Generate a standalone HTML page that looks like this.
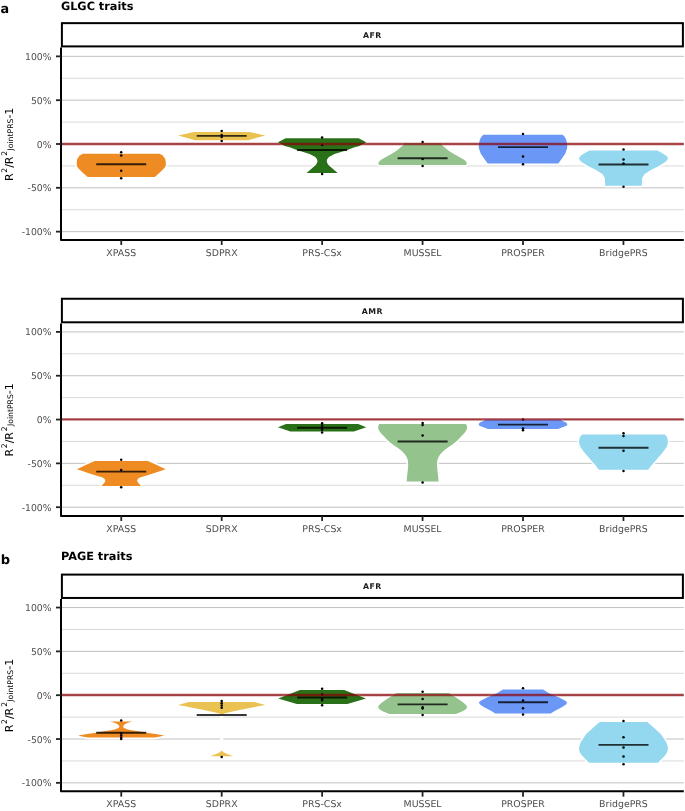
<!DOCTYPE html><html lang="en"><head><meta charset="utf-8"><title>PRS comparison</title>
<style>html,body{margin:0;padding:0;background:#fff}svg{display:block;will-change:transform}text{font-family:"DejaVu Sans","Liberation Sans",sans-serif;text-rendering:geometricPrecision}.tk{font-size:9.4px;fill:#4d4d4d}.st{font-size:7.8px;font-weight:bold;fill:#1a1a1a;letter-spacing:0.5px}.ti{font-size:11.3px;font-weight:bold;fill:#000}.tg{font-size:12.8px;font-weight:bold;fill:#000}.yl{font-size:11px;fill:#000}.ys{font-size:7.7px;fill:#000}</style></head><body>
<svg width="685" height="811" viewBox="0 0 685 811">
<rect width="685" height="811" fill="#fff"/>
<text class="tg" x="0.4" y="12.9">a</text>
<text class="ti" x="60.9" y="9.6">GLGC traits</text>
<text class="tg" x="0.8" y="564.1" style="font-size:13px">b</text>
<text class="ti" x="60.9" y="560.2">PAGE traits</text>
<line x1="61.0" x2="683.8" y1="78.26" y2="78.26" stroke="#c8c8c8" stroke-width="0.7"/>
<line x1="61.0" x2="683.8" y1="122.09" y2="122.09" stroke="#c8c8c8" stroke-width="0.7"/>
<line x1="61.0" x2="683.8" y1="165.91" y2="165.91" stroke="#c8c8c8" stroke-width="0.7"/>
<line x1="61.0" x2="683.8" y1="209.74" y2="209.74" stroke="#c8c8c8" stroke-width="0.7"/>
<line x1="61.0" x2="683.8" y1="56.35" y2="56.35" stroke="#a6a6a6" stroke-width="0.7"/>
<line x1="61.0" x2="683.8" y1="100.18" y2="100.18" stroke="#a6a6a6" stroke-width="0.7"/>
<line x1="61.0" x2="683.8" y1="144.00" y2="144.00" stroke="#a6a6a6" stroke-width="0.7"/>
<line x1="61.0" x2="683.8" y1="187.82" y2="187.82" stroke="#a6a6a6" stroke-width="0.7"/>
<line x1="61.0" x2="683.8" y1="231.65" y2="231.65" stroke="#a6a6a6" stroke-width="0.7"/>
<path d="M159.7,153.8 L162.3,155.3 L163.9,156.9 L165.2,159.3 L165.8,161.7 L165.8,165.7 L164.4,168.1 L160.4,172.1 L154.8,177.0 L87.7,177.0 L82.0,172.1 L78.0,168.1 L76.8,165.7 L76.8,161.7 L77.2,159.3 L78.5,156.9 L80.2,155.3 L82.8,153.8Z" fill="#ef8b23" stroke="#fff" stroke-width="3.1" stroke-linejoin="round" paint-order="stroke"/>
<path d="M249.4,131.9 L265.3,135.4 L248.2,140.2 L195.2,140.2 L178.1,135.4 L194.0,131.9Z" fill="#eac252" stroke="#fff" stroke-width="3.1" stroke-linejoin="round" paint-order="stroke"/>
<path d="M358.6,138.2 L366.3,142.3 L359.4,145.9 L353.8,147.5 L347.4,149.9 L334.5,153.9 L328.9,157.1 L327.3,159.0 L326.7,161.1 L327.2,163.0 L328.5,165.1 L333.3,169.2 L337.6,172.9 L306.6,172.9 L310.9,169.2 L315.7,165.1 L317.0,163.0 L317.5,161.1 L316.9,159.0 L315.3,157.1 L309.7,153.9 L296.8,149.9 L290.4,147.5 L284.8,145.9 L277.9,142.3 L285.6,138.2Z" fill="#2a7018" stroke="#fff" stroke-width="3.1" stroke-linejoin="round" paint-order="stroke"/>
<path d="M441.2,143.0 L441.6,144.7 L444.8,147.5 L448.3,150.6 L453.4,153.8 L459.3,156.9 L464.5,160.1 L466.3,162.0 L466.9,163.2 L466.6,164.2 L465.8,164.9 L379.4,164.9 L378.6,164.2 L378.3,163.2 L378.9,162.0 L380.7,160.1 L385.9,156.9 L391.8,153.8 L396.9,150.6 L400.4,147.5 L403.6,144.7 L404.0,143.0Z" fill="#94c38d" stroke="#fff" stroke-width="3.1" stroke-linejoin="round" paint-order="stroke"/>
<path d="M562.7,134.8 L564.8,137.0 L566.0,139.3 L567.2,144.1 L567.2,148.1 L565.2,153.7 L561.9,158.5 L558.3,163.4 L487.7,163.4 L484.1,158.5 L480.8,153.7 L478.8,148.1 L478.8,144.1 L480.0,139.3 L481.2,137.0 L483.3,134.8Z" fill="#6b98f7" stroke="#fff" stroke-width="3.1" stroke-linejoin="round" paint-order="stroke"/>
<path d="M657.5,150.4 L663.7,154.1 L666.5,156.0 L668.0,158.1 L667.2,160.0 L665.2,162.1 L659.0,166.1 L650.8,170.1 L644.4,174.2 L642.1,178.2 L641.8,185.7 L605.2,185.7 L604.9,178.2 L602.6,174.2 L596.2,170.1 L588.0,166.1 L581.7,162.1 L579.7,160.0 L579.0,158.1 L580.5,156.0 L583.2,154.1 L589.5,150.4Z" fill="#94d8ef" stroke="#fff" stroke-width="3.1" stroke-linejoin="round" paint-order="stroke"/>
<line x1="96.2" x2="146.2" y1="164.2" y2="164.2" stroke="#000" stroke-opacity="0.78" stroke-width="1.9"/>
<circle cx="121.2" cy="152.3" r="1.25" fill="#000"/>
<circle cx="121.2" cy="155.5" r="1.25" fill="#000"/>
<circle cx="121.2" cy="170.8" r="1.25" fill="#000"/>
<circle cx="121.2" cy="178.3" r="1.25" fill="#000"/>
<line x1="196.7" x2="246.7" y1="135.9" y2="135.9" stroke="#000" stroke-opacity="0.78" stroke-width="1.9"/>
<circle cx="221.7" cy="130.9" r="1.25" fill="#000"/>
<circle cx="221.7" cy="134.9" r="1.25" fill="#000"/>
<circle cx="221.7" cy="136.9" r="1.25" fill="#000"/>
<circle cx="221.7" cy="141" r="1.25" fill="#000"/>
<line x1="297.1" x2="347.1" y1="150.05" y2="150.05" stroke="#000" stroke-opacity="0.78" stroke-width="1.9"/>
<circle cx="322.1" cy="137.4" r="1.25" fill="#000"/>
<circle cx="322.1" cy="145.1" r="1.25" fill="#000"/>
<circle cx="322.1" cy="174" r="1.25" fill="#000"/>
<line x1="397.6" x2="447.6" y1="158.2" y2="158.2" stroke="#000" stroke-opacity="0.78" stroke-width="1.9"/>
<circle cx="422.6" cy="141.9" r="1.25" fill="#000"/>
<circle cx="422.6" cy="159" r="1.25" fill="#000"/>
<circle cx="422.6" cy="166.1" r="1.25" fill="#000"/>
<line x1="498.0" x2="548.0" y1="147.1" y2="147.1" stroke="#000" stroke-opacity="0.78" stroke-width="1.9"/>
<circle cx="523.0" cy="134.1" r="1.25" fill="#000"/>
<circle cx="523.0" cy="156.6" r="1.25" fill="#000"/>
<circle cx="523.0" cy="164.3" r="1.25" fill="#000"/>
<line x1="598.5" x2="648.5" y1="164.5" y2="164.5" stroke="#000" stroke-opacity="0.78" stroke-width="1.9"/>
<circle cx="623.5" cy="149.4" r="1.25" fill="#000"/>
<circle cx="623.5" cy="159.4" r="1.25" fill="#000"/>
<circle cx="623.5" cy="163.4" r="1.25" fill="#000"/>
<circle cx="623.5" cy="186.7" r="1.25" fill="#000"/>
<line x1="61.0" x2="683.8" y1="144.00" y2="144.00" stroke="#8b0006" stroke-opacity="0.7" stroke-width="2.3"/>
<path d="M61.0,47.50 L61.0,239.95 L683.8,239.95" fill="none" stroke="#000" stroke-width="2" stroke-linejoin="round"/>
<rect x="61.9" y="23.15" width="621.0" height="23.25" fill="#fff" stroke="#000" stroke-width="2"/>
<text class="st" x="372.35" y="37.60" text-anchor="middle">AFR</text>
<line x1="56.0" x2="61.0" y1="56.35" y2="56.35" stroke="#222" stroke-width="1.8"/>
<text class="tk" x="51.6" y="59.90" text-anchor="end" style="font-size:9.3px">100%</text>
<line x1="56.0" x2="61.0" y1="100.18" y2="100.18" stroke="#222" stroke-width="1.8"/>
<text class="tk" x="51.6" y="103.73" text-anchor="end" style="font-size:9.3px">50%</text>
<line x1="56.0" x2="61.0" y1="144.00" y2="144.00" stroke="#222" stroke-width="1.8"/>
<text class="tk" x="51.6" y="147.55" text-anchor="end" style="font-size:9.3px">0%</text>
<line x1="56.0" x2="61.0" y1="187.82" y2="187.82" stroke="#222" stroke-width="1.8"/>
<text class="tk" x="51.6" y="191.38" text-anchor="end" style="font-size:9.3px">-50%</text>
<line x1="56.0" x2="61.0" y1="231.65" y2="231.65" stroke="#222" stroke-width="1.8"/>
<text class="tk" x="51.6" y="235.20" text-anchor="end" style="font-size:9.3px">-100%</text>
<line x1="121.25" x2="121.25" y1="239.95" y2="244.95" stroke="#222" stroke-width="1.8"/>
<text class="tk" x="121.25" y="256.35" text-anchor="middle">XPASS</text>
<line x1="221.69" x2="221.69" y1="239.95" y2="244.95" stroke="#222" stroke-width="1.8"/>
<text class="tk" x="221.69" y="256.35" text-anchor="middle">SDPRX</text>
<line x1="322.13" x2="322.13" y1="239.95" y2="244.95" stroke="#222" stroke-width="1.8"/>
<text class="tk" x="322.13" y="256.35" text-anchor="middle">PRS-CSx</text>
<line x1="422.57" x2="422.57" y1="239.95" y2="244.95" stroke="#222" stroke-width="1.8"/>
<text class="tk" x="422.57" y="256.35" text-anchor="middle">MUSSEL</text>
<line x1="523.01" x2="523.01" y1="239.95" y2="244.95" stroke="#222" stroke-width="1.8"/>
<text class="tk" x="523.01" y="256.35" text-anchor="middle">PROSPER</text>
<line x1="623.45" x2="623.45" y1="239.95" y2="244.95" stroke="#222" stroke-width="1.8"/>
<text class="tk" x="623.45" y="256.35" text-anchor="middle">BridgePRS</text>
<g transform="translate(13.05,181.00) rotate(-90)"><text class="yl" x="0" y="0">R</text><text class="ys" x="8.2" y="-6.0">2</text><text class="yl" x="13.25" y="0">/</text><text class="yl" x="16.7" y="0">R</text><text class="ys" x="25.35" y="-6.0">2</text><text class="ys" x="30.5" y="-0.45">JointPRS</text><text class="yl" x="62.4" y="0">-1</text></g>
<line x1="61.0" x2="683.8" y1="353.81" y2="353.81" stroke="#c8c8c8" stroke-width="0.7"/>
<line x1="61.0" x2="683.8" y1="397.64" y2="397.64" stroke="#c8c8c8" stroke-width="0.7"/>
<line x1="61.0" x2="683.8" y1="441.46" y2="441.46" stroke="#c8c8c8" stroke-width="0.7"/>
<line x1="61.0" x2="683.8" y1="485.29" y2="485.29" stroke="#c8c8c8" stroke-width="0.7"/>
<line x1="61.0" x2="683.8" y1="331.90" y2="331.90" stroke="#a6a6a6" stroke-width="0.7"/>
<line x1="61.0" x2="683.8" y1="375.72" y2="375.72" stroke="#a6a6a6" stroke-width="0.7"/>
<line x1="61.0" x2="683.8" y1="419.55" y2="419.55" stroke="#a6a6a6" stroke-width="0.7"/>
<line x1="61.0" x2="683.8" y1="463.37" y2="463.37" stroke="#a6a6a6" stroke-width="0.7"/>
<line x1="61.0" x2="683.8" y1="507.20" y2="507.20" stroke="#a6a6a6" stroke-width="0.7"/>
<path d="M147.8,461.0 L156.8,464.9 L165.6,469.2 L158.8,471.5 L152.2,473.7 L145.8,475.7 L140.6,477.3 L138.2,478.5 L137.2,480.0 L137.3,481.5 L138.8,483.4 L141.2,486.1 L101.2,486.1 L103.8,483.4 L105.2,481.5 L105.2,480.0 L104.2,478.5 L102.0,477.3 L96.8,475.7 L90.2,473.7 L83.8,471.5 L77.0,469.2 L85.7,464.9 L94.7,461.0Z" fill="#ef8b23" stroke="#fff" stroke-width="3.1" stroke-linejoin="round" paint-order="stroke"/>
<path d="M358.2,424.1 L366.3,427.3 L353.8,431.6 L290.4,431.6 L277.9,427.3 L286.0,424.1Z" fill="#2a7018" stroke="#fff" stroke-width="3.1" stroke-linejoin="round" paint-order="stroke"/>
<path d="M466.0,424.1 L466.8,425.5 L467.1,427.7 L466.5,430.0 L465.2,432.0 L463.5,434.0 L461.5,436.0 L459.7,438.0 L457.8,440.0 L455.6,442.0 L453.0,444.0 L450.3,446.0 L447.2,448.0 L444.6,450.0 L442.4,452.0 L440.5,454.0 L439.1,456.0 L438.1,458.0 L437.4,460.0 L437.0,464.0 L437.2,468.0 L437.6,472.0 L438.1,476.0 L438.6,481.6 L406.6,481.6 L407.1,476.0 L407.6,472.0 L408.0,468.0 L408.2,464.0 L407.8,460.0 L407.1,458.0 L406.1,456.0 L404.7,454.0 L402.8,452.0 L400.6,450.0 L398.0,448.0 L394.9,446.0 L392.2,444.0 L389.6,442.0 L387.4,440.0 L385.5,438.0 L383.7,436.0 L381.7,434.0 L380.0,432.0 L378.7,430.0 L378.1,427.7 L378.4,425.5 L379.2,424.1Z" fill="#94c38d" stroke="#fff" stroke-width="3.1" stroke-linejoin="round" paint-order="stroke"/>
<path d="M560.5,419.6 L562.7,420.9 L566.0,422.5 L567.0,423.4 L567.3,424.4 L566.8,425.4 L565.3,426.3 L562.7,427.3 L560.0,428.2 L558.2,428.9 L487.8,428.9 L486.0,428.2 L483.3,427.3 L480.7,426.3 L479.2,425.4 L478.7,424.4 L479.0,423.4 L480.0,422.5 L483.3,420.9 L485.5,419.6Z" fill="#6b98f7" stroke="#fff" stroke-width="3.1" stroke-linejoin="round" paint-order="stroke"/>
<path d="M664.5,434.4 L666.2,436.0 L667.2,437.7 L668.0,441.7 L667.5,444.5 L666.4,447.3 L663.0,452.1 L656.2,460.1 L650.5,466.6 L648.2,469.8 L598.8,469.8 L596.5,466.6 L590.8,460.1 L584.0,452.1 L580.6,447.3 L579.5,444.5 L579.0,441.7 L579.7,437.7 L580.7,436.0 L582.5,434.4Z" fill="#94d8ef" stroke="#fff" stroke-width="3.1" stroke-linejoin="round" paint-order="stroke"/>
<line x1="96.2" x2="146.2" y1="471.6" y2="471.6" stroke="#000" stroke-opacity="0.78" stroke-width="1.9"/>
<circle cx="121.2" cy="459.8" r="1.25" fill="#000"/>
<circle cx="121.2" cy="470.1" r="1.25" fill="#000"/>
<circle cx="121.2" cy="487.2" r="1.25" fill="#000"/>
<line x1="297.1" x2="347.1" y1="427.8" y2="427.8" stroke="#000" stroke-opacity="0.78" stroke-width="1.9"/>
<circle cx="322.1" cy="423.3" r="1.25" fill="#000"/>
<circle cx="322.1" cy="425.6" r="1.25" fill="#000"/>
<circle cx="322.1" cy="427.8" r="1.25" fill="#000"/>
<circle cx="322.1" cy="429.8" r="1.25" fill="#000"/>
<circle cx="322.1" cy="432.6" r="1.25" fill="#000"/>
<line x1="397.6" x2="447.6" y1="441.5" y2="441.5" stroke="#000" stroke-opacity="0.78" stroke-width="1.9"/>
<circle cx="422.6" cy="423.1" r="1.25" fill="#000"/>
<circle cx="422.6" cy="425.1" r="1.25" fill="#000"/>
<circle cx="422.6" cy="435.4" r="1.25" fill="#000"/>
<circle cx="422.6" cy="482.6" r="1.25" fill="#000"/>
<line x1="498.0" x2="548.0" y1="424.6" y2="424.6" stroke="#000" stroke-opacity="0.78" stroke-width="1.9"/>
<circle cx="523.0" cy="419.6" r="1.25" fill="#000"/>
<circle cx="523.0" cy="428.5" r="1.25" fill="#000"/>
<circle cx="523.0" cy="430.3" r="1.25" fill="#000"/>
<line x1="598.5" x2="648.5" y1="447.8" y2="447.8" stroke="#000" stroke-opacity="0.78" stroke-width="1.9"/>
<circle cx="623.5" cy="433.3" r="1.25" fill="#000"/>
<circle cx="623.5" cy="436.1" r="1.25" fill="#000"/>
<circle cx="623.5" cy="450.8" r="1.25" fill="#000"/>
<circle cx="623.5" cy="471.1" r="1.25" fill="#000"/>
<line x1="61.0" x2="683.8" y1="419.40" y2="419.40" stroke="#8b0006" stroke-opacity="0.7" stroke-width="2.3"/>
<path d="M61.0,323.40 L61.0,515.95 L683.8,515.95" fill="none" stroke="#000" stroke-width="2" stroke-linejoin="round"/>
<rect x="61.9" y="298.75" width="621.0" height="23.55" fill="#fff" stroke="#000" stroke-width="2"/>
<text class="st" x="372.35" y="313.65" text-anchor="middle">AMR</text>
<line x1="56.0" x2="61.0" y1="331.90" y2="331.90" stroke="#222" stroke-width="1.8"/>
<text class="tk" x="51.6" y="335.45" text-anchor="end" style="font-size:9.3px">100%</text>
<line x1="56.0" x2="61.0" y1="375.72" y2="375.72" stroke="#222" stroke-width="1.8"/>
<text class="tk" x="51.6" y="379.27" text-anchor="end" style="font-size:9.3px">50%</text>
<line x1="56.0" x2="61.0" y1="419.55" y2="419.55" stroke="#222" stroke-width="1.8"/>
<text class="tk" x="51.6" y="423.10" text-anchor="end" style="font-size:9.3px">0%</text>
<line x1="56.0" x2="61.0" y1="463.37" y2="463.37" stroke="#222" stroke-width="1.8"/>
<text class="tk" x="51.6" y="466.92" text-anchor="end" style="font-size:9.3px">-50%</text>
<line x1="56.0" x2="61.0" y1="507.20" y2="507.20" stroke="#222" stroke-width="1.8"/>
<text class="tk" x="51.6" y="510.75" text-anchor="end" style="font-size:9.3px">-100%</text>
<line x1="121.25" x2="121.25" y1="515.95" y2="520.95" stroke="#222" stroke-width="1.8"/>
<text class="tk" x="121.25" y="532.35" text-anchor="middle">XPASS</text>
<line x1="221.69" x2="221.69" y1="515.95" y2="520.95" stroke="#222" stroke-width="1.8"/>
<text class="tk" x="221.69" y="532.35" text-anchor="middle">SDPRX</text>
<line x1="322.13" x2="322.13" y1="515.95" y2="520.95" stroke="#222" stroke-width="1.8"/>
<text class="tk" x="322.13" y="532.35" text-anchor="middle">PRS-CSx</text>
<line x1="422.57" x2="422.57" y1="515.95" y2="520.95" stroke="#222" stroke-width="1.8"/>
<text class="tk" x="422.57" y="532.35" text-anchor="middle">MUSSEL</text>
<line x1="523.01" x2="523.01" y1="515.95" y2="520.95" stroke="#222" stroke-width="1.8"/>
<text class="tk" x="523.01" y="532.35" text-anchor="middle">PROSPER</text>
<line x1="623.45" x2="623.45" y1="515.95" y2="520.95" stroke="#222" stroke-width="1.8"/>
<text class="tk" x="623.45" y="532.35" text-anchor="middle">BridgePRS</text>
<g transform="translate(13.05,456.55) rotate(-90)"><text class="yl" x="0" y="0">R</text><text class="ys" x="8.2" y="-6.0">2</text><text class="yl" x="13.25" y="0">/</text><text class="yl" x="16.7" y="0">R</text><text class="ys" x="25.35" y="-6.0">2</text><text class="ys" x="30.5" y="-0.45">JointPRS</text><text class="yl" x="62.4" y="0">-1</text></g>
<line x1="61.0" x2="683.8" y1="629.46" y2="629.46" stroke="#c8c8c8" stroke-width="0.7"/>
<line x1="61.0" x2="683.8" y1="673.29" y2="673.29" stroke="#c8c8c8" stroke-width="0.7"/>
<line x1="61.0" x2="683.8" y1="717.11" y2="717.11" stroke="#c8c8c8" stroke-width="0.7"/>
<line x1="61.0" x2="683.8" y1="760.94" y2="760.94" stroke="#c8c8c8" stroke-width="0.7"/>
<line x1="61.0" x2="683.8" y1="607.55" y2="607.55" stroke="#a6a6a6" stroke-width="0.7"/>
<line x1="61.0" x2="683.8" y1="651.38" y2="651.38" stroke="#a6a6a6" stroke-width="0.7"/>
<line x1="61.0" x2="683.8" y1="695.20" y2="695.20" stroke="#a6a6a6" stroke-width="0.7"/>
<line x1="61.0" x2="683.8" y1="739.03" y2="739.03" stroke="#a6a6a6" stroke-width="0.7"/>
<line x1="61.0" x2="683.8" y1="782.85" y2="782.85" stroke="#a6a6a6" stroke-width="0.7"/>
<path d="M132.2,721.5 L128.0,722.7 L125.2,723.9 L123.5,725.4 L123.2,726.6 L123.5,727.8 L125.2,728.6 L128.0,729.4 L131.8,730.2 L136.6,731.0 L141.3,731.7 L146.8,732.8 L153.6,733.7 L158.7,734.5 L164.3,735.4 L160.2,736.5 L154.8,737.6 L87.8,737.6 L82.2,736.5 L78.2,735.4 L83.8,734.5 L89.0,733.7 L95.7,732.8 L101.2,731.7 L106.0,731.0 L110.7,730.2 L114.5,729.4 L117.3,728.6 L119.0,727.8 L119.3,726.6 L119.0,725.4 L117.3,723.9 L114.5,722.7 L110.2,721.5Z" fill="#ef8b23" stroke="#fff" stroke-width="3.1" stroke-linejoin="round" paint-order="stroke"/>
<path d="M254.5,702.0 L265.3,704.9 L258.2,706.3 L251.4,707.7 L239.4,710.1 L228.1,712.5 L224.2,713.6 L221.7,714.6 L221.7,750.5 L223.3,752.0 L226.0,753.4 L229.2,754.8 L233.2,756.2 L210.2,756.2 L214.2,754.8 L217.4,753.4 L220.1,752.0 L221.7,750.5 L221.7,714.6 L219.2,713.6 L215.3,712.5 L204.0,710.1 L192.0,707.7 L185.2,706.3 L178.1,704.9 L188.9,702.0Z" fill="#eac252" stroke="#fff" stroke-width="3.1" stroke-linejoin="round" paint-order="stroke"/>
<path d="M344.2,690.1 L366.0,698.4 L347.4,704.0 L296.8,704.0 L278.2,698.4 L300.0,690.1Z" fill="#2a7018" stroke="#fff" stroke-width="3.1" stroke-linejoin="round" paint-order="stroke"/>
<path d="M448.7,693.0 L458.3,699.1 L463.9,703.1 L466.4,705.5 L467.1,707.1 L466.1,709.0 L463.1,711.1 L455.9,714.0 L389.3,714.0 L382.1,711.1 L379.1,709.0 L378.1,707.1 L378.8,705.5 L381.3,703.1 L386.9,699.1 L396.5,693.0Z" fill="#94c38d" stroke="#fff" stroke-width="3.1" stroke-linejoin="round" paint-order="stroke"/>
<path d="M543.1,689.5 L549.5,693.5 L559.1,697.5 L565.3,700.7 L567.2,702.6 L566.0,704.5 L562.3,707.1 L554.7,711.1 L550.7,713.5 L495.3,713.5 L491.3,711.1 L483.7,707.1 L480.0,704.5 L478.8,702.6 L480.7,700.7 L486.9,697.5 L496.5,693.5 L502.9,689.5Z" fill="#6b98f7" stroke="#fff" stroke-width="3.1" stroke-linejoin="round" paint-order="stroke"/>
<path d="M647.2,722.0 L652.0,726.1 L660.7,734.1 L666.2,742.1 L667.5,746.0 L668.0,749.3 L667.2,752.0 L665.5,755.0 L660.8,759.8 L658.0,762.7 L589.0,762.7 L586.2,759.8 L581.5,755.0 L579.7,752.0 L579.0,749.3 L579.5,746.0 L580.8,742.1 L586.2,734.1 L595.0,726.1 L599.8,722.0Z" fill="#94d8ef" stroke="#fff" stroke-width="3.1" stroke-linejoin="round" paint-order="stroke"/>
<line x1="96.2" x2="146.2" y1="732.8" y2="732.8" stroke="#000" stroke-opacity="0.78" stroke-width="1.9"/>
<circle cx="121.2" cy="720.4" r="1.25" fill="#000"/>
<circle cx="121.2" cy="733.6" r="1.25" fill="#000"/>
<circle cx="121.2" cy="735.5" r="1.25" fill="#000"/>
<circle cx="121.2" cy="737.4" r="1.25" fill="#000"/>
<circle cx="121.2" cy="739.1" r="1.25" fill="#000"/>
<line x1="196.7" x2="246.7" y1="715.05" y2="715.05" stroke="#000" stroke-opacity="0.78" stroke-width="1.9"/>
<circle cx="221.7" cy="701" r="1.25" fill="#000"/>
<circle cx="221.7" cy="703.3" r="1.25" fill="#000"/>
<circle cx="221.7" cy="705.5" r="1.25" fill="#000"/>
<circle cx="221.7" cy="707.7" r="1.25" fill="#000"/>
<circle cx="221.7" cy="757.1" r="1.25" fill="#000"/>
<line x1="297.1" x2="347.1" y1="697.5" y2="697.5" stroke="#000" stroke-opacity="0.78" stroke-width="1.9"/>
<circle cx="322.1" cy="688.8" r="1.25" fill="#000"/>
<circle cx="322.1" cy="694.6" r="1.25" fill="#000"/>
<circle cx="322.1" cy="698.9" r="1.25" fill="#000"/>
<circle cx="322.1" cy="700.2" r="1.25" fill="#000"/>
<circle cx="322.1" cy="705.3" r="1.25" fill="#000"/>
<line x1="397.6" x2="447.6" y1="704.4" y2="704.4" stroke="#000" stroke-opacity="0.78" stroke-width="1.9"/>
<circle cx="422.6" cy="691.7" r="1.25" fill="#000"/>
<circle cx="422.6" cy="698.9" r="1.25" fill="#000"/>
<circle cx="422.6" cy="707.3" r="1.25" fill="#000"/>
<circle cx="422.6" cy="708.6" r="1.25" fill="#000"/>
<circle cx="422.6" cy="715.1" r="1.25" fill="#000"/>
<line x1="498.0" x2="548.0" y1="702.3" y2="702.3" stroke="#000" stroke-opacity="0.78" stroke-width="1.9"/>
<circle cx="523.0" cy="688.2" r="1.25" fill="#000"/>
<circle cx="523.0" cy="700.4" r="1.25" fill="#000"/>
<circle cx="523.0" cy="708.2" r="1.25" fill="#000"/>
<circle cx="523.0" cy="714.5" r="1.25" fill="#000"/>
<line x1="598.5" x2="648.5" y1="744.85" y2="744.85" stroke="#000" stroke-opacity="0.78" stroke-width="1.9"/>
<circle cx="623.5" cy="721.1" r="1.25" fill="#000"/>
<circle cx="623.5" cy="737.3" r="1.25" fill="#000"/>
<circle cx="623.5" cy="747.4" r="1.25" fill="#000"/>
<circle cx="623.5" cy="756.6" r="1.25" fill="#000"/>
<circle cx="623.5" cy="764.3" r="1.25" fill="#000"/>
<line x1="61.0" x2="683.8" y1="695.00" y2="695.00" stroke="#8b0006" stroke-opacity="0.7" stroke-width="2.3"/>
<path d="M61.0,599.05 L61.0,791.25 L683.8,791.25" fill="none" stroke="#000" stroke-width="2" stroke-linejoin="round"/>
<rect x="61.9" y="574.60" width="621.0" height="23.35" fill="#fff" stroke="#000" stroke-width="2"/>
<text class="st" x="372.35" y="589.35" text-anchor="middle">AFR</text>
<line x1="56.0" x2="61.0" y1="607.55" y2="607.55" stroke="#222" stroke-width="1.8"/>
<text class="tk" x="51.6" y="611.10" text-anchor="end" style="font-size:9.3px">100%</text>
<line x1="56.0" x2="61.0" y1="651.38" y2="651.38" stroke="#222" stroke-width="1.8"/>
<text class="tk" x="51.6" y="654.92" text-anchor="end" style="font-size:9.3px">50%</text>
<line x1="56.0" x2="61.0" y1="695.20" y2="695.20" stroke="#222" stroke-width="1.8"/>
<text class="tk" x="51.6" y="698.75" text-anchor="end" style="font-size:9.3px">0%</text>
<line x1="56.0" x2="61.0" y1="739.03" y2="739.03" stroke="#222" stroke-width="1.8"/>
<text class="tk" x="51.6" y="742.58" text-anchor="end" style="font-size:9.3px">-50%</text>
<line x1="56.0" x2="61.0" y1="782.85" y2="782.85" stroke="#222" stroke-width="1.8"/>
<text class="tk" x="51.6" y="786.40" text-anchor="end" style="font-size:9.3px">-100%</text>
<line x1="121.25" x2="121.25" y1="791.25" y2="796.65" stroke="#222" stroke-width="1.8"/>
<text class="tk" x="121.25" y="807.25" text-anchor="middle">XPASS</text>
<line x1="221.69" x2="221.69" y1="791.25" y2="796.65" stroke="#222" stroke-width="1.8"/>
<text class="tk" x="221.69" y="807.25" text-anchor="middle">SDPRX</text>
<line x1="322.13" x2="322.13" y1="791.25" y2="796.65" stroke="#222" stroke-width="1.8"/>
<text class="tk" x="322.13" y="807.25" text-anchor="middle">PRS-CSx</text>
<line x1="422.57" x2="422.57" y1="791.25" y2="796.65" stroke="#222" stroke-width="1.8"/>
<text class="tk" x="422.57" y="807.25" text-anchor="middle">MUSSEL</text>
<line x1="523.01" x2="523.01" y1="791.25" y2="796.65" stroke="#222" stroke-width="1.8"/>
<text class="tk" x="523.01" y="807.25" text-anchor="middle">PROSPER</text>
<line x1="623.45" x2="623.45" y1="791.25" y2="796.65" stroke="#222" stroke-width="1.8"/>
<text class="tk" x="623.45" y="807.25" text-anchor="middle">BridgePRS</text>
<g transform="translate(13.05,732.20) rotate(-90)"><text class="yl" x="0" y="0">R</text><text class="ys" x="8.2" y="-6.0">2</text><text class="yl" x="13.25" y="0">/</text><text class="yl" x="16.7" y="0">R</text><text class="ys" x="25.35" y="-6.0">2</text><text class="ys" x="30.5" y="-0.45">JointPRS</text><text class="yl" x="62.4" y="0">-1</text></g>
</svg></body></html>
